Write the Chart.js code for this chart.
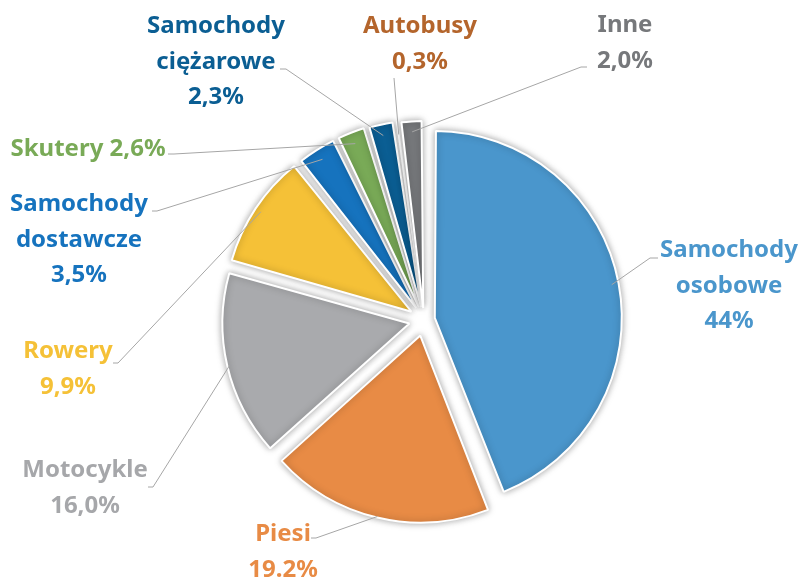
<!DOCTYPE html>
<html>
<head>
<meta charset="utf-8">
<script src="https://cdn.jsdelivr.net/npm/chart.js@4"></script>
<style>
  html, body { margin: 0; padding: 0; background: #fff; }
  #wrap { width: 801px; height: 577px; position: relative; }
</style>
</head>
<body>
<div id="wrap"><canvas id="pie" width="801" height="577"></canvas></div>
<script>
const categories = ['Samochody osobowe', 'Piesi', 'Motocykle', 'Rowery', 'Samochody dostawcze', 'Skutery', 'Samochody ciężarowe', 'Autobusy', 'Inne'];
const shares = [44, 19.2, 16.0, 9.9, 3.5, 2.6, 2.3, 0.3, 2.0];
const shareLabels = ['44%', '19.2%', '16,0%', '9,9%', '3,5%', '2,6%', '2,3%', '0,3%', '2,0%'];
const colors = ['#4A96CC', '#E88B45', '#A9AAAD', '#F5C137', '#1673BE', '#79AA57', '#0B5E93', '#B4652C', '#76787B'];
const textColors = ['#4A96CC', '#E88B45', '#A6A7AA', '#F5C137', '#1673BE', '#79AA57', '#0B5E93', '#B4652C', '#76787B'];
// explosion per slice (chart.js divides offset by 4)
const explode = [44, 64, 60, 60, 56, 56, 52, 52, 48];

// label placement: centre x, first baseline, leader start + elbow
const labelLayout = [
  { x: 729, y: 257, inline: false, start: [658, 258], elbow: [650, 258] },
  { x: 283, y: 541, inline: false, start: [311, 538], elbow: [316, 538] },
  { x: 85,  y: 477, inline: false, start: [148, 487], elbow: [153, 487] },
  { x: 68,  y: 358, inline: false, start: [113, 363], elbow: [118, 363] },
  { x: 79,  y: 211, inline: false, start: [152, 211], elbow: [157, 211] },
  { x: 88,  y: 156, inline: true,  start: [168, 154], elbow: [174, 154] },
  { x: 216, y: 33,  inline: false, start: [280, 69],  elbow: [286, 69] },
  { x: 420, y: 33,  inline: false, start: [394, 78],  elbow: null },
  { x: 625, y: 32,  inline: false, start: [587, 67],  elbow: [581, 67] },
];
const LINE_H = 35.5;

// chart.js grows the radius of exploded small arcs; undo that so explosion is a pure shift
const pureExplode = {
  id: 'pureExplode',
  afterDatasetUpdate(chart, args) {
    const meta = chart.getDatasetMeta(args.index);
    meta.data.forEach(arc => {
      const c = arc.endAngle - arc.startAngle;
      const fix = 1 - Math.sin(Math.min(Math.PI, c));
      arc.outerRadius -= ((arc.options.offset || 0) / 4) * fix;
    });
  }
};

const softShadow = {
  id: 'softShadow',
  beforeDatasetsDraw(chart) {
    const ctx = chart.ctx;
    ctx.save();
    ctx.shadowColor = 'rgba(0,0,0,0.35)';
    ctx.shadowBlur = 7;
  },
  afterDatasetsDraw(chart) {
    chart.ctx.restore();
  }
};

const calloutLabels = {
  id: 'calloutLabels',
  afterDraw(chart) {
    const ctx = chart.ctx;
    const arcs = chart.getDatasetMeta(0).data;
    ctx.save();
    arcs.forEach((arc, i) => {
      const lay = labelLayout[i];
      const mid = (arc.startAngle + arc.endAngle) / 2;
      const shift = (arc.options.offset || 0) / 4;
      const px = arc.x + Math.cos(mid) * (arc.outerRadius + shift);
      const py = arc.y + Math.sin(mid) * (arc.outerRadius + shift);

      // leader line
      ctx.strokeStyle = '#A6A6A6';
      ctx.lineWidth = 1;
      ctx.beginPath();
      ctx.moveTo(lay.start[0], lay.start[1]);
      if (lay.elbow) ctx.lineTo(lay.elbow[0], lay.elbow[1]);
      ctx.lineTo(px, py);
      ctx.stroke();

      // text
      const lines = lay.inline
        ? [categories[i] + ' ' + shareLabels[i]]
        : categories[i].split(' ').concat([shareLabels[i]]);
      ctx.fillStyle = textColors[i];
      ctx.font = 'bold 24px "Noto Sans"';
      ctx.textAlign = 'center';
      ctx.textBaseline = 'alphabetic';
      lines.forEach((t, k) => ctx.fillText(t, lay.x, lay.y + k * LINE_H));
    });
    ctx.restore();
  }
};

new Chart(document.getElementById('pie'), {
  type: 'pie',
  data: {
    labels: categories,
    datasets: [{
      data: shares,
      backgroundColor: colors,
      borderColor: '#ffffff',
      borderWidth: 2,
      offset: explode,
    }],
  },
  options: {
    responsive: false,
    animation: false,
    radius: 187,
    rotation: 0,
    layout: { padding: { left: 47, right: 0, top: 63, bottom: 0 } },
    plugins: { legend: { display: false }, tooltip: { enabled: false } },
  },
  plugins: [pureExplode, softShadow, calloutLabels],
});
</script>
</body>
</html>
